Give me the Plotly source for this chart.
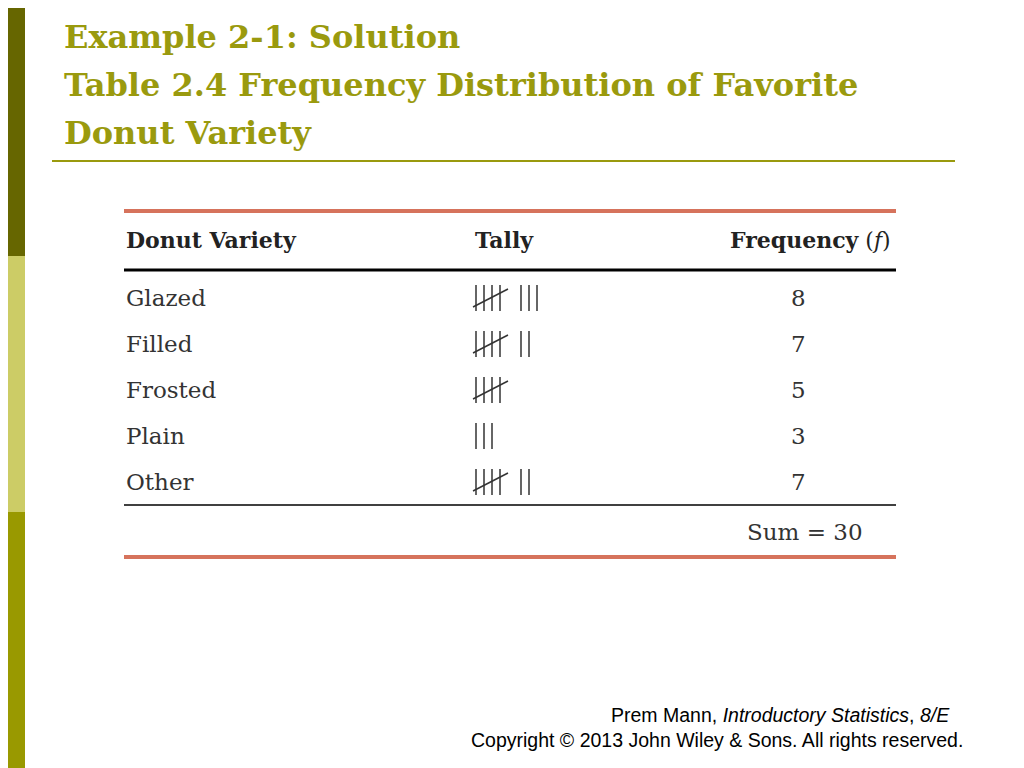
import plotly.graph_objects as go

title_lines = ["Example 2-1: Solution", "Table 2.4 Frequency Distribution of Favorite", "Donut Variety"]
headers = ["Donut Variety", "Tally", "Frequency"]
varieties = ["Glazed", "Filled", "Frosted", "Plain", "Other"]
frequencies = [8, 7, 5, 3, 7]
total = sum(frequencies)

fig = go.Figure()
shapes = []
ann = []
olive = "#9a9a0e"
for y0, y1, c in [(0, 256, "#666600"), (256, 512, "#cccc66"), (512, 768, "#999900")]:
    shapes.append(dict(type="rect", x0=0, x1=25, y0=y0, y1=y1, fillcolor=c, line_width=0))
for i, t in enumerate(title_lines):
    ann.append(dict(x=62, y=37 + i * 48, text="<b>" + t + "</b>", xanchor="left", yanchor="middle", showarrow=False,
                    font=dict(family="DejaVu Serif", size=32, color=olive)))
shapes.append(dict(type="line", x0=52, x1=955, y0=161, y1=161, line=dict(color=olive, width=2)))
red = "#d6735c"
shapes.append(dict(type="line", x0=124, x1=896, y0=211, y1=211, line=dict(color=red, width=4)))
shapes.append(dict(type="line", x0=124, x1=896, y0=270, y1=270, line=dict(color="black", width=3)))
shapes.append(dict(type="line", x0=124, x1=896, y0=505, y1=505, line=dict(color="black", width=1.5)))
shapes.append(dict(type="line", x0=124, x1=896, y0=557, y1=557, line=dict(color=red, width=4)))
hf = dict(family="DejaVu Serif", size=22, color="#222")
ann.append(dict(x=124, y=240, text="<b>" + headers[0] + "</b>", xanchor="left", showarrow=False, font=hf))
ann.append(dict(x=473, y=240, text="<b>" + headers[1] + "</b>", xanchor="left", showarrow=False, font=hf))
ann.append(dict(x=893, y=240, text="<b>" + headers[2] + "</b> (<i>f</i>)", xanchor="right", showarrow=False, font=hf))
rf = dict(family="DejaVu Serif", size=23, color="#333")
for i, (v, f) in enumerate(zip(varieties, frequencies)):
    y = 298 + i * 46
    ann.append(dict(x=124, y=y, text=v, xanchor="left", showarrow=False, font=rf))
    ann.append(dict(x=798, y=y, text=str(f), xanchor="center", showarrow=False, font=rf))
    fives, rest = divmod(f, 5)
    x = 476
    for _ in range(fives):
        for k in range(4):
            shapes.append(dict(type="line", x0=x + k * 8, x1=x + k * 8, y0=y - 13, y1=y + 13, line=dict(color="#333", width=1.5)))
        shapes.append(dict(type="line", x0=x - 3, x1=x + 32, y0=y + 9, y1=y - 9, line=dict(color="#333", width=1.5)))
        x += 45
    for k in range(rest):
        shapes.append(dict(type="line", x0=x + k * 8, x1=x + k * 8, y0=y - 13, y1=y + 13, line=dict(color="#333", width=1.5)))
ann.append(dict(x=805, y=532, text=f"Sum = {total}", xanchor="center", showarrow=False, font=rf))
ff = dict(family="Liberation Sans", size=19.5, color="black")
ann.append(dict(x=952, y=715, text="Prem Mann, <i>Introductory Statistics</i>, <i>8/E</i>", xanchor="right", showarrow=False, font=ff))
ann.append(dict(x=965, y=740, text="Copyright © 2013 John Wiley &amp; Sons. All rights reserved.", xanchor="right", showarrow=False, font=ff))

# page body has an 8px offset; shift axis ranges to compensate
fig.update_layout(width=1024, height=768, margin=dict(l=0, r=0, t=0, b=0), plot_bgcolor="white", paper_bgcolor="white",
                  shapes=shapes, annotations=ann, showlegend=False,
                  xaxis=dict(range=[8, 1032], visible=False, fixedrange=True),
                  yaxis=dict(range=[776, 8], visible=False, fixedrange=True))
fig.write_html("out.html", config={"displayModeBar": False})
